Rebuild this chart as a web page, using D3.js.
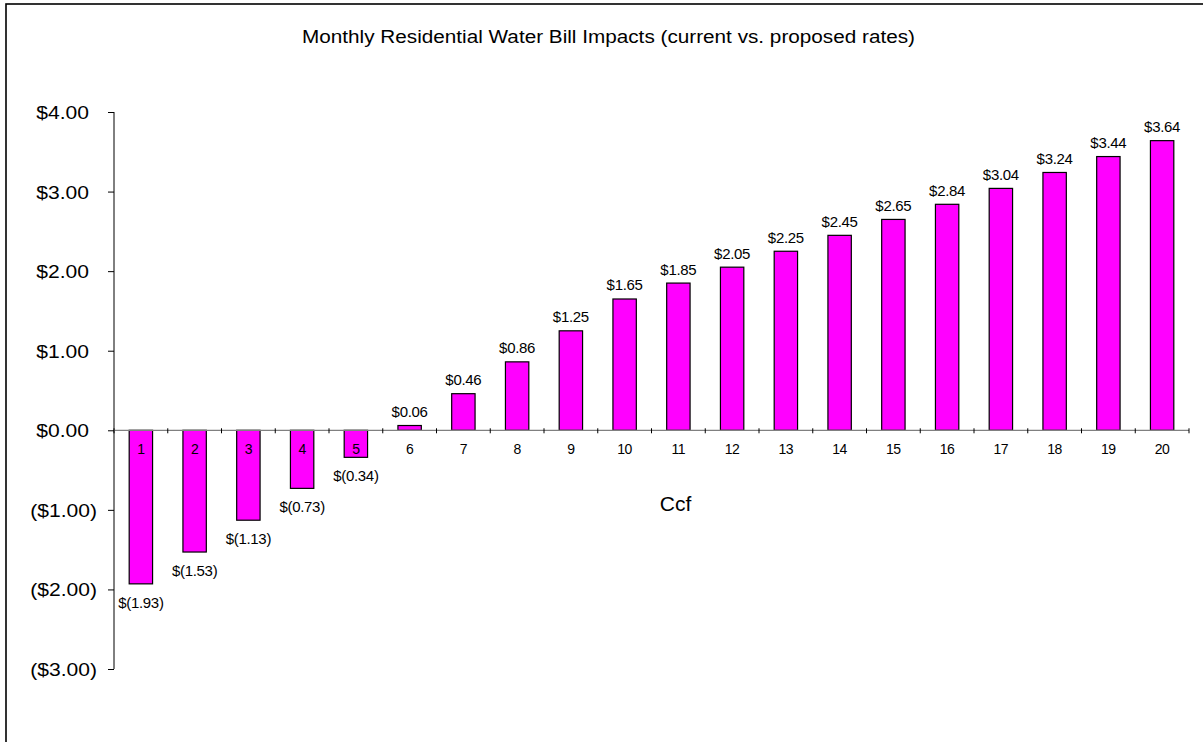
<!DOCTYPE html>
<html><head><meta charset="utf-8">
<script src="https://cdn.jsdelivr.net/npm/d3@7"></script>
<style>body{margin:0;background:#fff}svg{display:block}text{font-family:"Liberation Sans",Arial,sans-serif;fill:#000}</style>
</head><body>
<script>
const categories = ["1","2","3","4","5","6","7","8","9","10","11","12","13","14","15","16","17","18","19","20"];
const values = [-1.93,-1.53,-1.13,-0.73,-0.34,0.06,0.46,0.86,1.25,1.65,1.85,2.05,2.25,2.45,2.65,2.84,3.04,3.24,3.44,3.64];
const yTicks = [4,3,2,1,0,-1,-2,-3];
const title = "Monthly Residential Water Bill Impacts (current vs. proposed rates)";
const xTitle = "Ccf";

const W = 1203, H = 742;
const svg = d3.select("body").append("svg").attr("width", W).attr("height", H);
svg.append("rect").attr("x",6).attr("y",4).attr("width",W).attr("height",H)
  .attr("fill","#fff").attr("stroke","#000").attr("stroke-width",1.6);

const x = d3.scaleBand().domain(categories).range([114,1189]).paddingInner(0.565).paddingOuter(0.2825);
const xb = d3.scaleBand().domain(categories).range([114,1189]);
const y = d3.scaleLinear().domain([-3,4]).range([669,112]);

const money = v => v < 0 ? "$(" + Math.abs(v).toFixed(2) + ")" : "$" + v.toFixed(2);
const tickFmt = v => v < 0 ? "($" + Math.abs(v).toFixed(2) + ")" : "$" + v.toFixed(2);

svg.append("text").attr("x",608.5).attr("y",43).attr("text-anchor","middle")
  .attr("textLength",613).attr("lengthAdjust","spacingAndGlyphs")
  .style("font-size","17.5px").text(title);

// bars
svg.selectAll("rect.bar").data(values).enter().append("rect").attr("class","bar")
  .attr("x",(d,i)=>x(categories[i])).attr("width",x.bandwidth())
  .attr("y",d=>y(Math.max(0,d))).attr("height",d=>Math.abs(y(d)-y(0)))
  .attr("fill","#FF00FF").attr("stroke","#000").attr("stroke-width",1.2);

// y axis
const yAxis = d3.axisLeft(y).tickValues(yTicks).tickSize(6).tickFormat("");
const gy = svg.append("g").attr("transform","translate(114,0)").call(yAxis);
gy.select(".domain").attr("stroke","#000").attr("d","M0,112V669");
gy.selectAll(".tick line").attr("stroke","#000");
svg.selectAll("text.ytl").data(yTicks).enter().append("text").attr("class","ytl")
  .attr("x",d=>d<0?97:89).attr("y",d=>y(d)+7).attr("text-anchor","end")
  .style("font-size","18.5px").text(tickFmt)
  .each(function(){ const w=this.getComputedTextLength(); d3.select(this).attr("textLength",w*1.14).attr("lengthAdjust","spacingAndGlyphs"); });

// x axis
const gx = svg.append("g").attr("transform","translate(0,"+y(0)+")");
gx.append("line").attr("x1",114).attr("x2",1189).attr("stroke","#808080").attr("stroke-width",1.2);
const edges = categories.map(c=>xb(c)).concat([1189]);
gx.selectAll("line.t").data(edges).enter().append("line").attr("class","t")
  .attr("x1",d=>d).attr("x2",d=>d).attr("y1",-2).attr("y2",3).attr("stroke","#000");
svg.selectAll("text.xtl").data(categories).enter().append("text").attr("class","xtl")
  .attr("x",d=>xb(d)+xb.bandwidth()/2).attr("y",454).attr("text-anchor","middle")
  .style("font-size","14px").style("letter-spacing","-0.3px").text(d=>d);

// data labels
svg.selectAll("text.dl").data(values).enter().append("text").attr("class","dl")
  .attr("x",(d,i)=>xb(categories[i])+xb.bandwidth()/2)
  .attr("y",d=>d>=0 ? y(d)-8.5 : y(d)+24).attr("text-anchor","middle")
  .style("font-size","15px").style("letter-spacing","-0.3px").text(money);

svg.append("text").attr("x",675.5).attr("y",511).attr("text-anchor","middle")
  .style("font-size","21px").text(xTitle);
</script>
</body></html>
